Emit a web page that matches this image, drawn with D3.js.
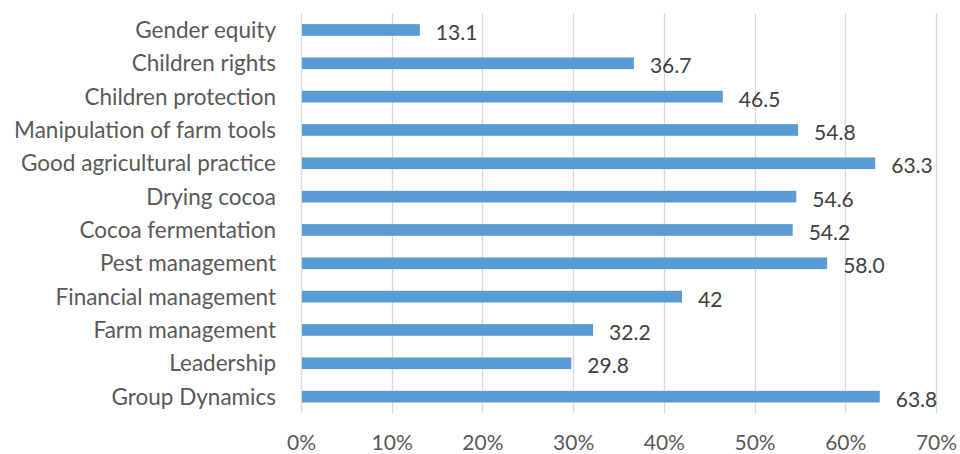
<!DOCTYPE html>
<html>
<head>
<meta charset="utf-8">
<script src="https://cdn.jsdelivr.net/npm/d3@7"></script>
<style>
  html, body { margin: 0; padding: 0; background: #ffffff; }
  svg { display: block; }
  text { font-family: Lato, "Open Sans", sans-serif; }
</style>
</head>
<body>
<svg id="chart" width="960" height="454"></svg>
<script>
// Training topics, listed top to bottom
const categories = [
  "Gender equity",
  "Children rights",
  "Children protection",
  "Manipulation of farm tools",
  "Good agricultural practice",
  "Drying cocoa",
  "Cocoa fermentation",
  "Pest management",
  "Financial management",
  "Farm management",
  "Leadership",
  "Group Dynamics"
];

// Share of respondents (%) per topic
const values = [13.1, 36.7, 46.5, 54.8, 63.3, 54.6, 54.2, 58.0, 42, 32.2, 29.8, 63.8];

// Data labels as printed next to each bar
const valueLabels = ["13.1", "36.7", "46.5", "54.8", "63.3", "54.6", "54.2", "58.0", "42", "32.2", "29.8", "63.8"];

// Percentage axis ticks
const xTicks = [0, 10, 20, 30, 40, 50, 60, 70];

const data = categories.map((c, i) => ({ category: c, value: values[i], label: valueLabels[i] }));

const svg = d3.select("#chart");
const plot = { left: 301, right: 936, top: 13.3, bottom: 413.3 };
const FONT = "Lato, 'Open Sans', sans-serif";

const x = d3.scaleLinear().domain([0, 70]).range([plot.left, plot.right]);
const y = d3.scaleBand()
  .domain(categories)
  .range([plot.top, plot.bottom])
  .paddingInner(0.65)
  .paddingOuter(0.325);

// Vertical gridlines
svg.append("g")
  .selectAll("line")
  .data(xTicks)
  .join("line")
  .attr("x1", d => Math.round(x(d)) + 0.5)
  .attr("x2", d => Math.round(x(d)) + 0.5)
  .attr("y1", plot.top)
  .attr("y2", plot.bottom)
  .attr("stroke", "#d9d9d9")
  .attr("stroke-width", 1.3);

// Bars
svg.append("g")
  .selectAll("rect")
  .data(data)
  .join("rect")
  .attr("x", x(0) + 1)
  .attr("y", d => y(d.category))
  .attr("width", d => x(d.value) - x(0) - 1)
  .attr("height", y.bandwidth())
  .attr("fill", "#5b9bd5");

// Value labels
svg.append("g")
  .selectAll("text")
  .data(data)
  .join("text")
  .attr("x", d => x(d.value) + 16)
  .attr("y", d => y(d.category) + y.bandwidth() / 2 + 1.5)
  .attr("dominant-baseline", "central")
  .attr("font-size", 21)
  .attr("font-family", FONT)
  .attr("fill", "#404040")
  .text(d => d.label);

// Category axis labels
const yAxis = d3.axisLeft(y).tickSize(0).tickPadding(25);
svg.append("g")
  .attr("transform", `translate(${plot.left},0)`)
  .call(yAxis)
  .call(g => g.select(".domain").remove())
  .call(g => g.selectAll("text")
    .attr("font-size", 22.5)
    .attr("fill", "#595959")
    .attr("font-family", FONT)
    .attr("dy", "0.35em"));

// Percentage axis labels
const xAxis = d3.axisBottom(x).tickValues(xTicks).tickFormat(d => d + "%").tickSize(0).tickPadding(0);
svg.append("g")
  .attr("transform", `translate(0,443)`)
  .call(xAxis)
  .call(g => g.select(".domain").remove())
  .call(g => g.selectAll("text")
    .attr("font-size", 21)
    .attr("fill", "#595959")
    .attr("font-family", FONT)
    .attr("dy", "0.35em"));
</script>
</body>
</html>
